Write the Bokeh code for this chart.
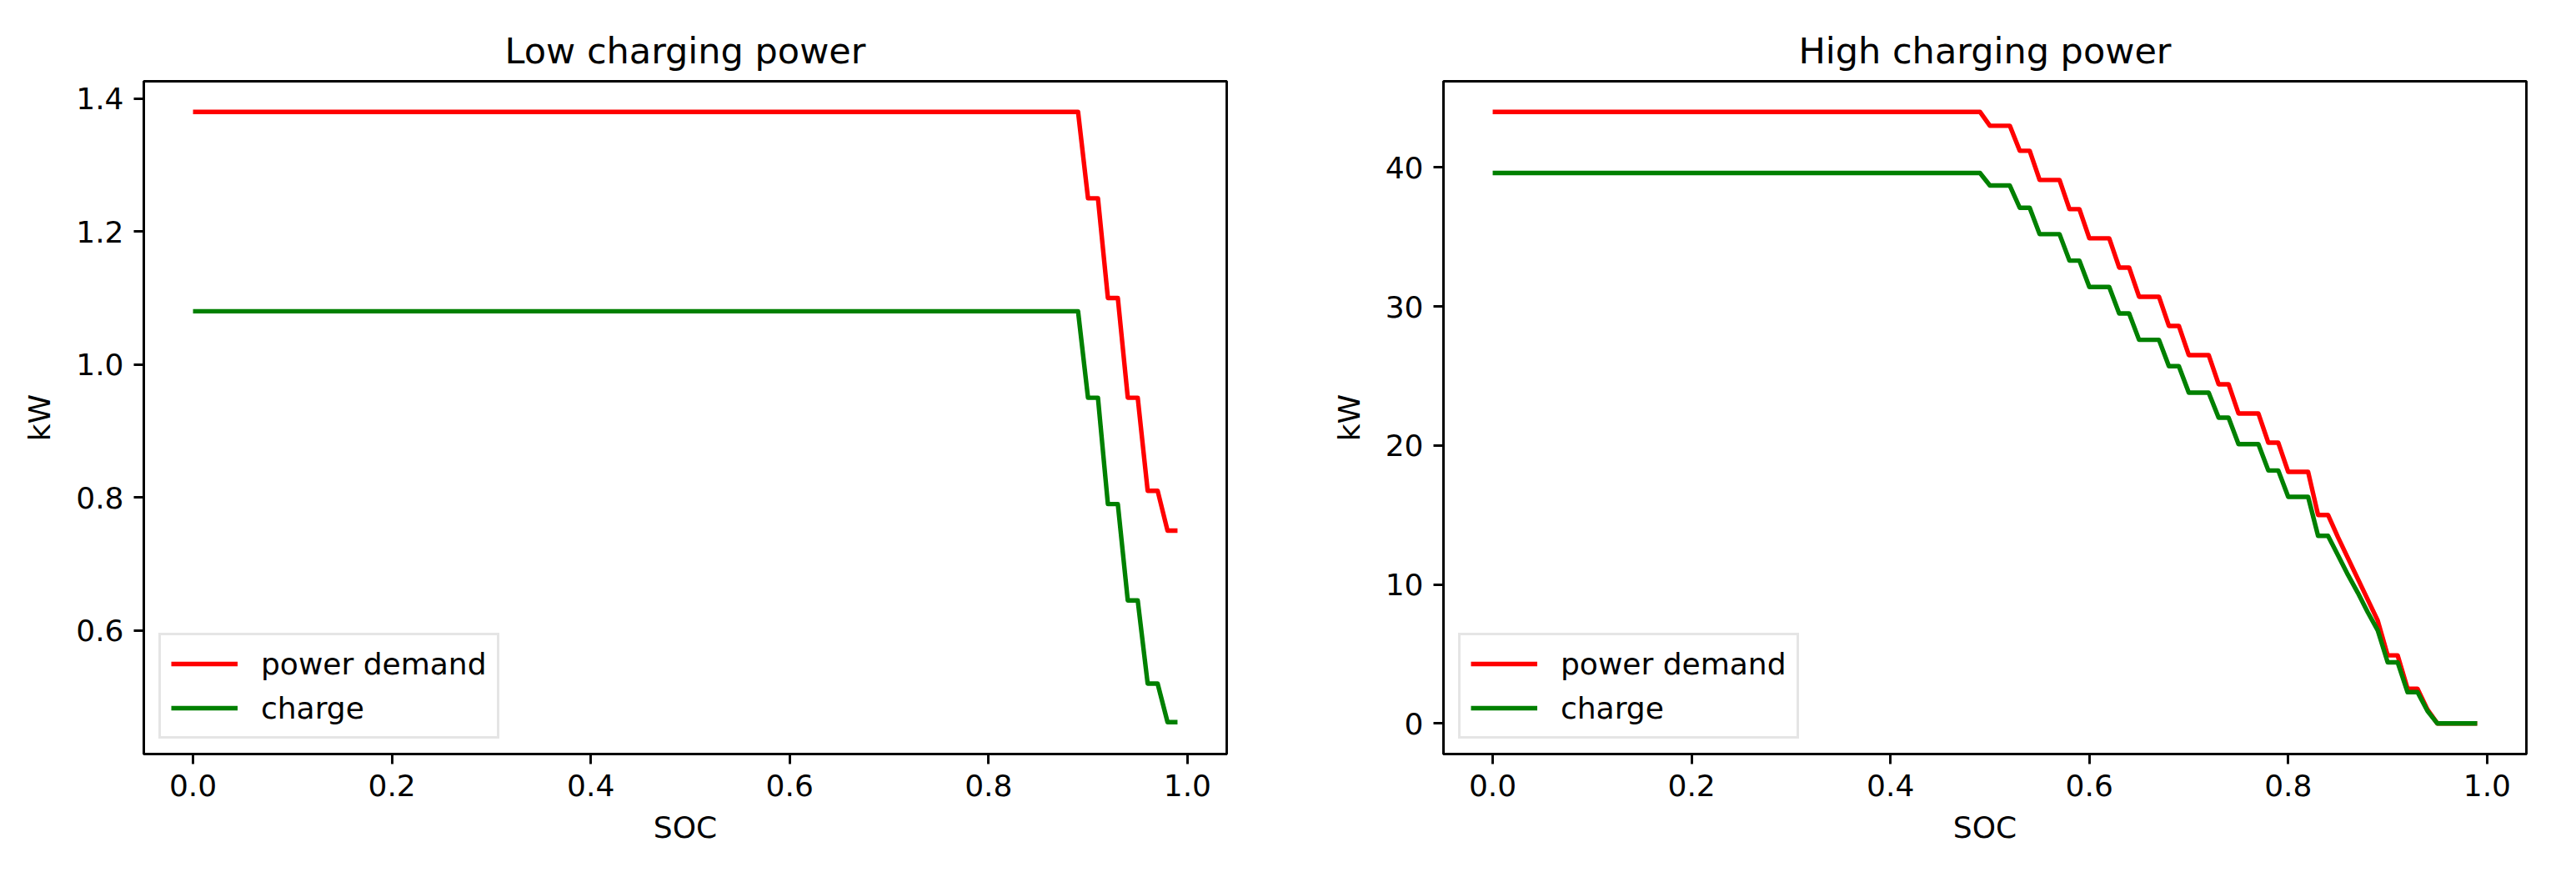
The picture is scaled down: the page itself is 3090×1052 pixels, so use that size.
from bokeh.plotting import figure
from bokeh.layouts import row
from bokeh.models import Range1d, FixedTicker, PrintfTickFormatter, Legend, LegendItem
from bokeh.embed import file_html
from bokeh.resources import INLINE

# ---------------- data (vertices of the step lines) ----------------
soc_low = [0.00, 0.89, 0.90, 0.91, 0.92, 0.93, 0.94, 0.95, 0.96, 0.97, 0.98, 0.99]
power_low = [1.38, 1.38, 1.25, 1.25, 1.10, 1.10, 0.95, 0.95, 0.81, 0.81, 0.75, 0.75]
charge_low = [1.08, 1.08, 0.95, 0.95, 0.79, 0.79, 0.645, 0.645, 0.52, 0.52, 0.462, 0.462]

soc_high = [0.00, 0.49, 0.50, 0.52, 0.53, 0.54, 0.55, 0.57, 0.58, 0.59,
            0.60, 0.62, 0.63, 0.64, 0.65, 0.67, 0.68, 0.69, 0.70, 0.72,
            0.73, 0.74, 0.75, 0.77, 0.78, 0.79, 0.80, 0.82, 0.83, 0.84,
            0.85, 0.86, 0.87, 0.88, 0.89, 0.90, 0.91, 0.92, 0.93, 0.94,
            0.95, 0.99]
power_high = [44.0, 44.0, 43.0, 43.0, 41.2, 41.2, 39.1, 39.1, 37.0, 37.0,
              34.9, 34.9, 32.8, 32.8, 30.7, 30.7, 28.6, 28.6, 26.5, 26.5,
              24.4, 24.4, 22.3, 22.3, 20.2, 20.2, 18.1, 18.1, 15.0, 15.0,
              13.4, 11.9, 10.4, 8.9, 7.4, 4.9, 4.9, 2.5, 2.5, 1.0,
              0.0, 0.0]
charge_high = [39.6, 39.6, 38.7, 38.7, 37.1, 37.1, 35.2, 35.2, 33.3, 33.3,
               31.4, 31.4, 29.5, 29.5, 27.6, 27.6, 25.7, 25.7, 23.8, 23.8,
               22.0, 22.0, 20.1, 20.1, 18.2, 18.2, 16.3, 16.3, 13.5, 13.5,
               12.1, 10.7, 9.4, 8.0, 6.7, 4.4, 4.4, 2.25, 2.25, 0.9,
               0.0, 0.0]

x_ticks = [0.0, 0.2, 0.4, 0.6, 0.8, 1.0]
y_ticks_low = [0.6, 0.8, 1.0, 1.2, 1.4]
y_ticks_high = [0, 10, 20, 30, 40]

titles = ["Low charging power", "High charging power"]
labels = ["power demand", "charge"]
colors = ["#ff0000", "#008000"]

FONT = "DejaVu Sans"
LW = 5.4
SPINE = 2.9


def make_fig(width, mb_left, mb_right, title, yr, yticks, yfmt, soc, power, charge):
    p = figure(width=width, height=1036, output_backend="svg", toolbar_location=None,
               x_range=Range1d(-0.0495, 1.0395), y_range=Range1d(*yr),
               min_border_left=mb_left, min_border_right=mb_right,
               min_border_top=97, min_border_bottom=132, title=title,
               background_fill_color="white", border_fill_color="white")
    r1 = p.line(soc, power, line_color=colors[0], line_width=LW, line_join="round")
    r2 = p.line(soc, charge, line_color=colors[1], line_width=LW, line_join="round")

    p.title.text_font = FONT
    p.title.text_font_size = "43px"
    p.title.text_font_style = "normal"
    p.title.text_color = "black"
    p.title.align = "center"
    p.title.standoff = 23

    p.xgrid.visible = False
    p.ygrid.visible = False
    p.outline_line_color = "black"
    p.outline_line_width = SPINE
    p.outline_line_alpha = 1.0

    p.xaxis.ticker = FixedTicker(ticks=x_ticks)
    p.xaxis.formatter = PrintfTickFormatter(format="%.1f")
    p.yaxis.ticker = FixedTicker(ticks=yticks)
    p.yaxis.formatter = PrintfTickFormatter(format=yfmt)
    p.xaxis.axis_label = "SOC"
    p.yaxis.axis_label = "kW"
    for ax in (p.xaxis[0], p.yaxis[0]):
        ax.axis_line_width = SPINE
        ax.axis_line_color = "black"
        ax.major_tick_line_width = SPINE
        ax.major_tick_line_color = "black"
        ax.major_tick_out = 12
        ax.major_tick_in = 0
        ax.minor_tick_line_color = None
        ax.major_label_text_font = FONT
        ax.major_label_text_font_size = "36px"
        ax.major_label_text_color = "black"
        ax.major_label_standoff = 12
        ax.axis_label_text_font = FONT
        ax.axis_label_text_font_size = "36px"
        ax.axis_label_text_font_style = "normal"
        ax.axis_label_text_color = "black"
    p.xaxis.axis_label_standoff = 14
    p.yaxis.axis_label_standoff = 20

    legend = Legend(items=[LegendItem(label=labels[0], renderers=[r1]),
                           LegendItem(label=labels[1], renderers=[r2])],
                    location="bottom_left")
    legend.label_text_font = FONT
    legend.label_text_font_size = "36px"
    legend.label_text_color = "black"
    legend.glyph_width = 80
    legend.glyph_height = 44
    legend.label_height = 44
    legend.label_standoff = 28
    legend.padding = 12
    legend.spacing = 9
    legend.margin = 18
    legend.border_line_color = "#cccccc"
    legend.border_line_width = 3
    legend.background_fill_alpha = 0.8
    p.add_layout(legend)
    return p


p1 = make_fig(1560, 172, 89, titles[0], (0.414, 1.426), y_ticks_low, "%.1f",
              soc_low, power_low, charge_low)
p2 = make_fig(1522, 171, 52, titles[1], (-2.2, 46.2), y_ticks_high, "%d",
              soc_high, power_high, charge_high)

layout = row(p1, p2)
open("out.html", "w").write(file_html(layout, INLINE))
